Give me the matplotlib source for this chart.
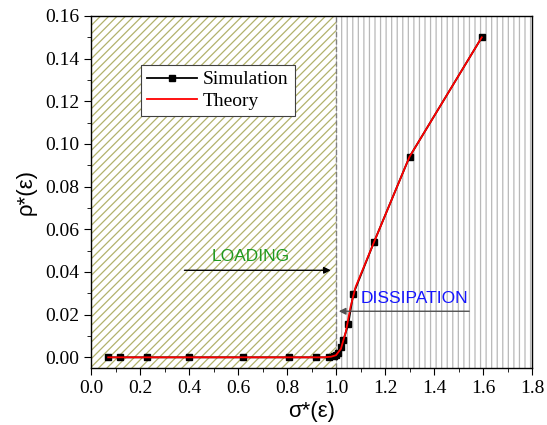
import matplotlib
matplotlib.use("Agg")
import matplotlib.pyplot as plt
from matplotlib.ticker import MultipleLocator

# -------------------------------------------------
# data
# -------------------------------------------------
sim_x = [0.07, 0.12, 0.23, 0.40, 0.62, 0.81, 0.92, 0.97, 0.99, 1.00, 1.01,
         1.02, 1.03, 1.05, 1.07, 1.155, 1.30, 1.595]
sim_y = [0.0, 0.0, 0.0, 0.0, 0.0, 0.0, 0.0, 0.0, 0.0005, 0.001, 0.002,
         0.005, 0.008, 0.0155, 0.0295, 0.054, 0.094, 0.150]

theory_x = [0.07, 0.40, 0.80, 0.95, 0.98, 1.00, 1.02, 1.04, 1.06, 1.08,
            1.155, 1.30, 1.595]
theory_y = [0.0, 0.0, 0.0, 0.0, 0.0003, 0.001, 0.004, 0.012, 0.024, 0.033,
            0.054, 0.094, 0.150]

sigma_c = 1.0
x_lim = (0.0, 1.8)
y_lim = (-0.005, 0.16)

serif = "Liberation Serif"
sans = "Liberation Sans"

fig = plt.figure(figsize=(5.47, 4.25), dpi=100)
ax = fig.add_axes([0.1664, 0.1341, 0.8062, 0.8283])

# -------------------------------------------------
# shaded regimes
# -------------------------------------------------
plt.rcParams["hatch.linewidth"] = 0.9
ax.axvspan(x_lim[0], sigma_c, facecolor="white", edgecolor="#b2b26c",
           hatch="////", linewidth=0, zorder=0)
ax.axvspan(sigma_c, x_lim[1], facecolor="white", edgecolor="#b8b8b8",
           hatch="|||", linewidth=0, zorder=0)
ax.axvline(sigma_c, color="#808080", linestyle="--", linewidth=1.0, zorder=1)

# -------------------------------------------------
# curves
# -------------------------------------------------
ax.plot(sim_x, sim_y, color="black", marker="s", markersize=5,
        linewidth=1.3, label="Simulation", zorder=3)
ax.plot(theory_x, theory_y, color="red", linewidth=1.3,
        label="Theory", zorder=4)

# -------------------------------------------------
# annotations
# -------------------------------------------------
ax.annotate("", xy=(0.99, 0.0408), xytext=(0.37, 0.0408),
            arrowprops=dict(arrowstyle="-|>", color="black", lw=1.0,
                            mutation_scale=10), zorder=5)
ax.text(0.65, 0.0472, "LOADING", color="#1f9a1f", fontsize=12.5,
        family=sans, ha="center", va="center", zorder=5)

ax.annotate("", xy=(1.0, 0.0216), xytext=(1.555, 0.0216),
            arrowprops=dict(arrowstyle="-|>", color="#505050", lw=1.0,
                            mutation_scale=10), zorder=5)
ax.text(1.32, 0.0275, "DISSIPATION", color="#1515ff", fontsize=12.5,
        family=sans, ha="center", va="center", zorder=5)

# -------------------------------------------------
# axes styling
# -------------------------------------------------
ax.set_xlim(*x_lim)
ax.set_ylim(*y_lim)
ax.xaxis.set_major_locator(MultipleLocator(0.2))
ax.xaxis.set_minor_locator(MultipleLocator(0.1))
ax.yaxis.set_major_locator(MultipleLocator(0.02))
ax.yaxis.set_minor_locator(MultipleLocator(0.01))
ax.xaxis.set_major_formatter(plt.FormatStrFormatter("%.1f"))
ax.yaxis.set_major_formatter(plt.FormatStrFormatter("%.2f"))
ax.tick_params(which="both", direction="out", top=False, right=False)
ax.tick_params(which="major", length=5, labelsize=14)
ax.tick_params(which="minor", length=3)
for lab in ax.get_xticklabels() + ax.get_yticklabels():
    lab.set_family(serif)
for sp in ax.spines.values():
    sp.set_linewidth(1.0)

ax.set_xlabel("σ*(ε)", family=sans, fontsize=16, labelpad=3)
ax.set_ylabel("ρ*(ε)", family=sans, fontsize=16, labelpad=6)

leg = ax.legend(loc="upper left", bbox_to_anchor=(0.113, 0.861),
                prop={"family": serif, "size": 14}, fancybox=False,
                framealpha=1, edgecolor="#404040", borderpad=0.3,
                handlelength=2.6, handletextpad=0.3, labelspacing=0.2,
                borderaxespad=0)
leg.get_frame().set_linewidth(0.8)

fig.savefig("out.png", dpi=100)
